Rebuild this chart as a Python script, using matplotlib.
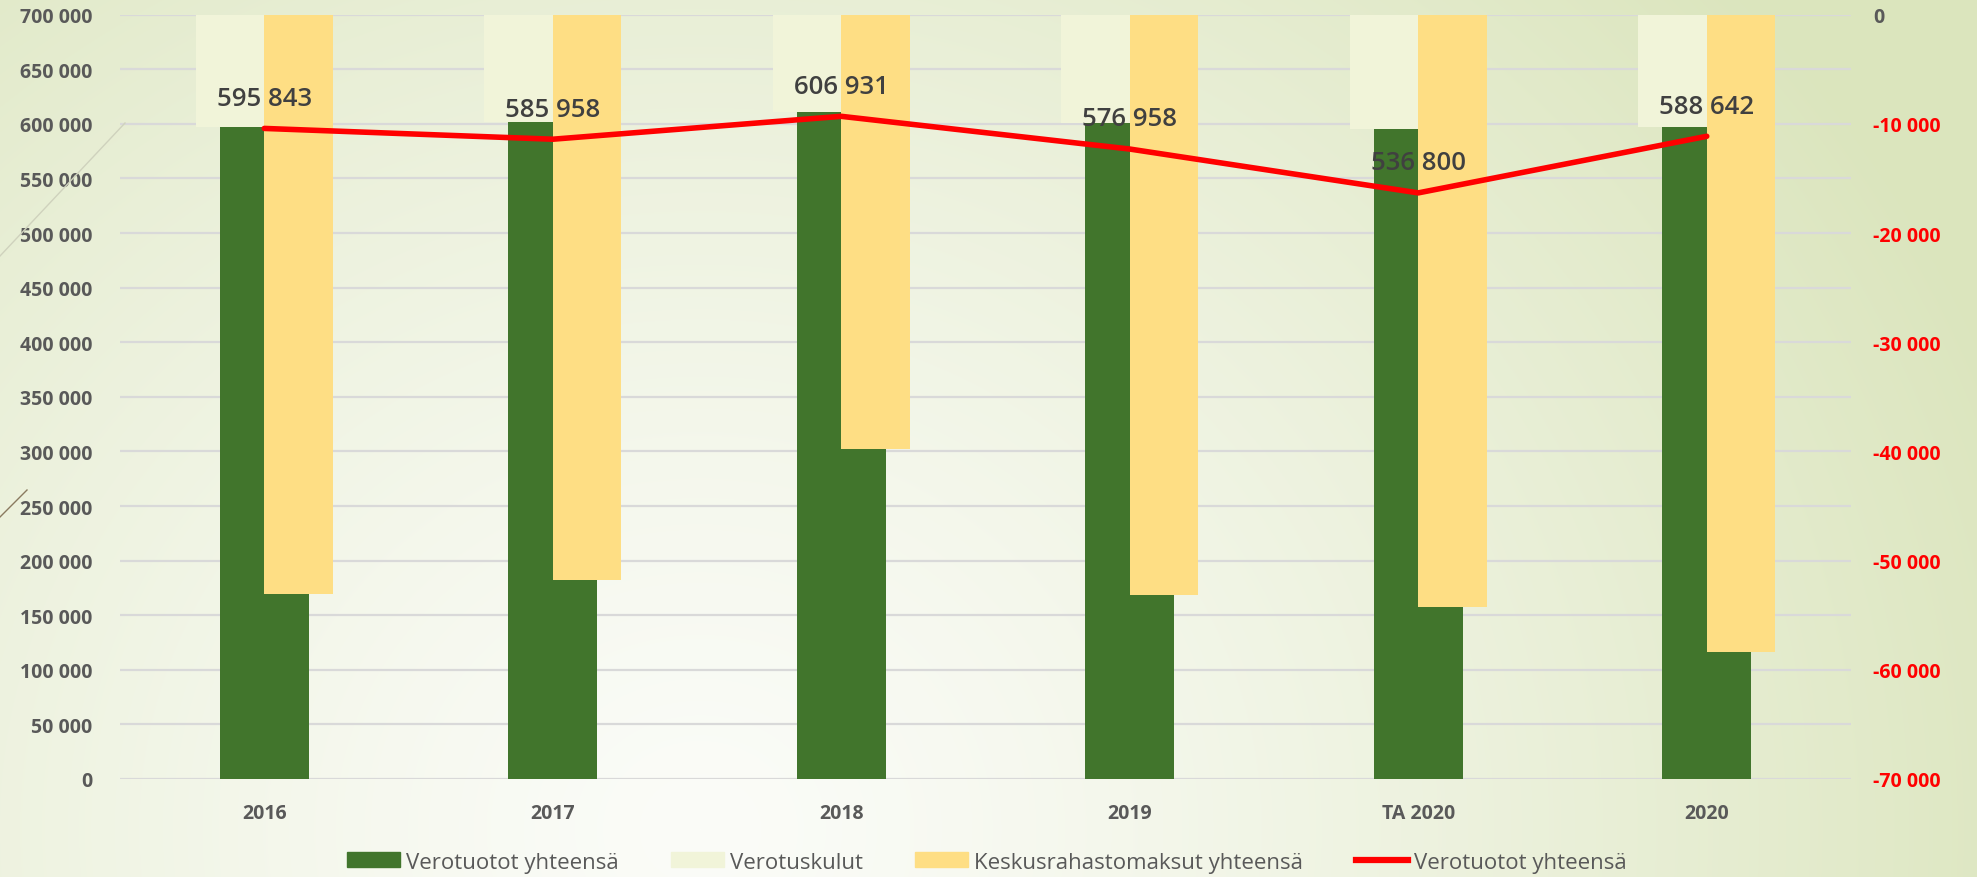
import numpy as np
import matplotlib
matplotlib.use("Agg")
import matplotlib.pyplot as plt
from matplotlib.lines import Line2D
from matplotlib.patches import Patch

plt.rcParams['font.family'] = ['Open Sans', 'DejaVu Sans']

# data
categories = ['2016', '2017', '2018', '2019', 'TA 2020', '2020']
verotuotot = [659400, 648700, 656400, 641100, 601500, 657900]      # green bars (left axis)
verotuskulut = [-10260, -9850, -8880, -9920, -10470, -10260]        # right axis
keskusrahasto = [-53070, -51800, -39790, -53180, -54220, -58380]    # right axis
verotuotot_net = [595843, 585958, 606931, 576958, 536800, 588642]   # red line (left axis)

left_ticks = list(range(0, 700001, 50000))
right_ticks = list(range(-70000, 1, 10000))

GREEN = '#41752c'
LIGHT = '#f1f4d9'
YELLOW = '#fede84'
RED = '#ff0000'
GREY = '#595959'


def fmt(v):
    s = '{:,}'.format(abs(v)).replace(',', ' ')
    return ('-' if v < 0 else '') + s


W, H = 1977, 878
fig = plt.figure(figsize=(W / 100, H / 100), dpi=100)

# background gradient
bg = fig.add_axes([0, 0, 1, 1], zorder=-10)
yy, xx = np.mgrid[0:H, 0:W]
d = np.sqrt((xx - 700) ** 2 + ((yy - 830) * 1.1) ** 2)
t = np.clip(d / 1400, 0, 1)[..., None] ** 1.3
inner = np.array([0xfb, 0xfc, 0xf8]) / 255
outer = np.array([0xdb, 0xe5, 0xbd]) / 255
bg.imshow(inner * (1 - t) + outer * t, aspect='auto', extent=[0, 1, 0, 1])
bg.axis('off')
fig.add_artist(Line2D([0, 125 / W], [1 - 257 / H, 1 - 124 / H], color='#cfd2bd', lw=1))
fig.add_artist(Line2D([0, 27 / W], [1 - 518 / H, 1 - 491 / H], color='#8a7a60', lw=1))

pos = [120 / W, 1 - 780 / H, (1851 - 120) / W, (780 - 15.7) / H]
ax = fig.add_axes(pos)
ax.patch.set_alpha(0)
x = np.arange(len(categories))

ax.bar(x, verotuotot, width=0.31, color=GREEN, zorder=2)
ax.set_xlim(-0.5, len(categories) - 0.5)
ax.set_ylim(0, 700000)
ax.set_yticks(left_ticks)
ax.set_yticklabels([fmt(v) for v in left_ticks])
ax.set_xticks(x)
ax.set_xticklabels(categories)
ax.yaxis.grid(True, color='#d9d9d9', lw=1.6)
ax.set_axisbelow(True)
ax.tick_params(axis='y', length=0, pad=20, labelsize=14, labelcolor=GREY)
ax.tick_params(axis='x', length=0, pad=17, labelsize=14, labelcolor=GREY)
for lbl in ax.get_yticklabels() + ax.get_xticklabels():
    lbl.set_fontweight('bold')
for s in ax.spines.values():
    s.set_visible(False)

ax2 = ax.twinx()
ax2.bar(x - 0.1185, verotuskulut, width=0.237, color=LIGHT)
ax2.bar(x + 0.1185, keskusrahasto, width=0.237, color=YELLOW)
ax2.set_ylim(-70000, 0)
ax2.set_yticks(right_ticks)
ax2.set_yticklabels([fmt(v) for v in right_ticks])
ax2.tick_params(axis='y', length=0, pad=16, labelsize=14)
for lbl, v in zip(ax2.get_yticklabels(), right_ticks):
    lbl.set_fontweight('bold')
    lbl.set_color(GREY if v == 0 else RED)
for s in ax2.spines.values():
    s.set_visible(False)

# line on top of everything, sharing the left scale
ax3 = fig.add_axes(pos, sharex=ax, sharey=ax)
ax3.patch.set_alpha(0)
ax3.axis('off')
ax3.plot(x, verotuotot_net, color=RED, lw=4, solid_capstyle='round')
for xi, v in zip(x, verotuotot_net):
    ax3.annotate(fmt(v), (xi, v), xytext=(0, 17), textcoords='offset points',
                 ha='center', va='baseline', fontsize=18.5, fontweight=600,
                 color='#404040')

handles = [Patch(color=GREEN), Patch(color=LIGHT), Patch(color=YELLOW),
           Line2D([0], [0], color=RED, lw=4.5)]
labels = ['Verotuotot yhteensä', 'Verotuskulut', 'Keskusrahastomaksut yhteensä',
          'Verotuotot yhteensä']
fig.legend(handles, labels, loc='center', bbox_to_anchor=(0.4994, 0.017), ncol=4,
           frameon=False, fontsize=16, labelcolor=GREY, handlelength=2.35,
           handleheight=0.65, handletextpad=0.3, columnspacing=2.35)

fig.savefig('out.png', dpi=100)
